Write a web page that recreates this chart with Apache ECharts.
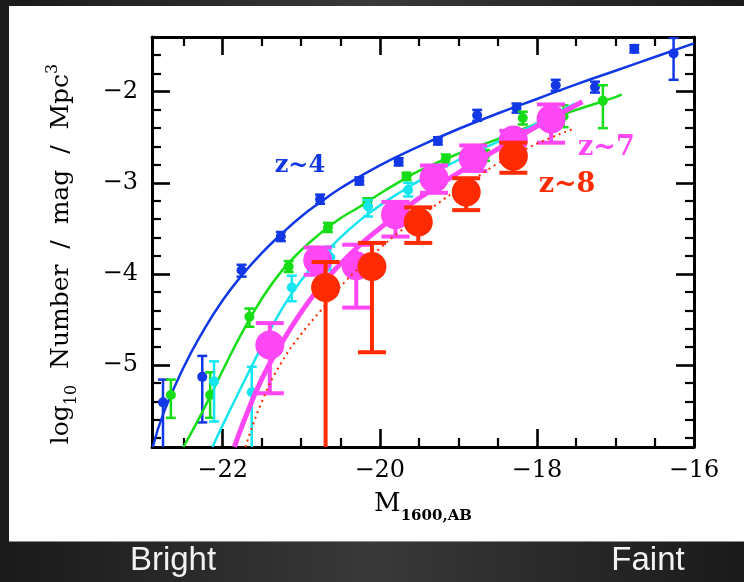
<!DOCTYPE html>
<html>
<head>
<meta charset="utf-8">
<title>UV luminosity functions, z~4 to z~8</title>
<script src="https://cdn.jsdelivr.net/npm/echarts@6/dist/echarts.min.js"></script>
<style>
  html, body { margin: 0; padding: 0; background: #222; }
  #chart { width: 744px; height: 582px; }
</style>
</head>
<body>
<div id="chart"></div>
<script>
// ---- measured points: absolute magnitude, log10 number density, error bars ----
const z4M     = [-22.76, -22.26, -21.76, -21.26, -20.76, -20.26, -19.76, -19.26, -18.76, -18.26, -17.76, -17.26, -16.76, -16.26];
const z4Phi   = [-5.41, -5.13, -3.96, -3.59, -3.18, -2.98, -2.77, -2.54, -2.26, -2.18, -1.93, -1.95, -1.53, -1.58];
const z4ErrUp = [0.25, 0.23, 0.06, 0.05, 0.05, 0.04, 0.04, 0.04, 0.06, 0.05, 0.06, 0.06, 0.04, 0.17];
const z4ErrDn = [0.80, 0.50, 0.07, 0.05, 0.05, 0.04, 0.04, 0.04, 0.06, 0.05, 0.06, 0.06, 0.04, 0.29];

const z5M     = [-22.66, -22.16, -21.66, -21.16, -20.66, -20.16, -19.66, -19.16, -18.66, -18.18, -17.66, -17.16];
const z5Phi   = [-5.33, -5.33, -4.47, -3.92, -3.49, -3.21, -2.93, -2.74, -2.70, -2.29, -2.27, -2.10];
const z5ErrUp = [0.17, 0.25, 0.09, 0.06, 0.05, 0.04, 0.04, 0.05, 0.06, 0.07, 0.12, 0.17];
const z5ErrDn = [0.25, 0.25, 0.11, 0.06, 0.05, 0.04, 0.04, 0.05, 0.06, 0.07, 0.12, 0.30];

const z6M     = [-22.11, -21.63, -21.12, -20.63, -20.15, -19.64];
const z6Phi   = [-5.18, -5.30, -4.15, -3.82, -3.26, -3.08];
const z6ErrUp = [0.22, 0.28, 0.13, 0.12, 0.07, 0.08];
const z6ErrDn = [0.44, 0.90, 0.15, 0.14, 0.11, 0.07];

const z7M     = [-21.40, -20.79, -20.30, -19.80, -19.31, -18.81, -18.30, -17.82];
const z7Phi   = [-4.78, -3.85, -3.91, -3.35, -2.95, -2.73, -2.53, -2.30];
const z7ErrUp = [0.24, 0.14, 0.23, 0.14, 0.14, 0.14, 0.10, 0.16];
const z7ErrDn = [0.53, 0.16, 0.46, 0.24, 0.16, 0.14, 0.15, 0.26];

const z8M     = [-20.69, -20.10, -19.51, -18.90, -18.30];
const z8Phi   = [-4.15, -3.92, -3.43, -3.10, -2.71];
const z8ErrUp = [0.28, 0.26, 0.16, 0.15, 0.15];
const z8ErrDn = [2.00, 0.94, 0.23, 0.20, 0.18];

// ---- fitted luminosity-function curves ----
const z4CurveM   = [-22.89, -22.75, -22.5, -22.25, -22.0, -21.75, -21.5, -21.25, -21.0, -20.75, -20.5, -20.0, -19.5, -19.0, -18.5, -18.0, -17.5, -17.0, -16.5, -16.0];
const z4CurvePhi = [-5.90, -5.52, -5.03, -4.63, -4.29, -4.01, -3.77, -3.56, -3.37, -3.21, -3.06, -2.81, -2.60, -2.41, -2.24, -2.08, -1.92, -1.77, -1.62, -1.47];

const z5CurveM   = [-22.5, -22.25, -22.0, -21.75, -21.5, -21.25, -21.0, -20.75, -20.5, -20.25, -20.0, -19.75, -19.5, -19.0, -18.5, -18.0, -17.5, -17.0, -16.92];
const z5CurvePhi = [-5.90, -5.50, -5.06, -4.64, -4.27, -3.97, -3.74, -3.55, -3.39, -3.26, -3.12, -2.99, -2.87, -2.68, -2.52, -2.35, -2.20, -2.06, -2.03];

const z6CurveM   = [-22.13, -22.0, -21.75, -21.5, -21.25, -21.0, -20.75, -20.5, -20.25, -20.0, -19.75, -19.5, -19.0, -18.5, -18.0, -17.52];
const z6CurvePhi = [-5.90, -5.66, -5.22, -4.79, -4.39, -4.07, -3.82, -3.60, -3.41, -3.25, -3.11, -2.98, -2.75, -2.55, -2.35, -2.13];

const z7CurveM   = [-21.85, -21.75, -21.5, -21.25, -21.0, -20.75, -20.5, -20.25, -20.0, -19.75, -19.5, -19.0, -18.5, -18.0, -17.42];
const z7CurvePhi = [-5.90, -5.66, -5.15, -4.76, -4.42, -4.13, -3.89, -3.68, -3.50, -3.33, -3.17, -2.89, -2.63, -2.38, -2.11];

const z8CurveM   = [-21.71, -21.5, -21.25, -21.0, -20.75, -20.5, -20.25, -20.0, -19.75, -19.5, -19.25, -19.0, -18.75, -18.5, -18.25, -18.0, -17.54];
const z8CurvePhi = [-5.90, -5.40, -4.97, -4.66, -4.40, -4.14, -3.92, -3.72, -3.54, -3.38, -3.22, -3.07, -2.93, -2.79, -2.68, -2.57, -2.41];

// ---- axes ----
const xTickValues = [-22, -20, -18, -16];
const xTickLabels = ['\u221222', '\u221220', '\u221218', '\u221216'];
const xMinorTicks = [-22.5, -21.5, -21, -20.5, -19.5, -19, -18.5, -17.5, -17, -16.5];
const yTickValues = [-5, -4, -3, -2];
const yTickLabels = ['\u22125', '\u22124', '\u22123', '\u22122'];
const yMinorTicks = [-5.8, -5.6, -5.4, -5.2, -4.8, -4.6, -4.4, -4.2, -3.8, -3.6, -3.4, -3.2, -2.8, -2.6, -2.4, -2.2, -1.8, -1.6];

// redshift tags, placed in data units
const tagText  = ['z~4', 'z~7', 'z~8'];
const tagColor = ['#1238e6', '#ff47f5', '#ff2b00'];
const tagSize  = [24, 27, 27];
const tagPos   = [[-21.01, -2.82], [-17.11, -2.62], [-17.61, -3.03]];

const COLORS = { z4: '#1238e6', z5: '#16dd16', z6: '#14e6ef', z7: '#ff47f5', z8: '#ff2b00' };
const SERIF = 'DejaVu Serif';

function pairs(xs, ys) { return xs.map((x, i) => [x, ys[i]]); }

function errorBars(color, M, phi, up, dn, capW, lw, z) {
  return {
    type: 'custom',
    xAxisIndex: 0, yAxisIndex: 0,
    clip: true, z: z, silent: true,
    encode: { x: 0, y: [1, 2, 3] },
    data: M.map((m, i) => [m, phi[i], phi[i] - dn[i], phi[i] + up[i]]),
    renderItem(params, api) {
      const x = api.value(0);
      const hi = api.coord([x, api.value(3)]);
      const lo = api.coord([x, api.value(2)]);
      const h = capW / 2;
      const style = { stroke: color, lineWidth: lw, fill: null };
      return {
        type: 'group',
        children: [
          { type: 'line', shape: { x1: hi[0], y1: hi[1], x2: lo[0], y2: lo[1] }, style },
          { type: 'line', shape: { x1: hi[0] - h, y1: hi[1], x2: hi[0] + h, y2: hi[1] }, style },
          { type: 'line', shape: { x1: lo[0] - h, y1: lo[1], x2: lo[0] + h, y2: lo[1] }, style }
        ]
      };
    }
  };
}

function points(color, M, phi, size, z) {
  return {
    type: 'scatter', xAxisIndex: 0, yAxisIndex: 0, z: z, silent: true,
    symbol: 'circle', symbolSize: size,
    itemStyle: { color: color, opacity: 1 },
    data: pairs(M, phi)
  };
}

function curve(color, M, phi, width, type, z) {
  return {
    type: 'line', xAxisIndex: 0, yAxisIndex: 0, z: z, silent: true,
    showSymbol: false, symbol: 'none', smooth: 0.5,
    clip: true,
    lineStyle: { color: color, width: width, type: type, cap: 'butt' },
    data: pairs(M, phi)
  };
}

const X_RANGE = { min: -22.9, max: -16 };
const Y_RANGE = { min: -5.9, max: -1.4 };

function xAxisDef(position, major, labels) {
  return Object.assign({
    type: 'value', position: position, gridIndex: 0,
    splitLine: { show: false },
    axisLine: { show: major, onZero: false, lineStyle: { color: '#000', width: 3 } },
    axisTick: {
      show: true, inside: true, length: major ? 18 : 9,
      customValues: major ? xTickValues : xMinorTicks,
      lineStyle: { color: '#000', width: major ? 2.6 : 2.2 }
    },
    axisLabel: labels ? {
      show: true, customValues: xTickValues,
      formatter: v => xTickLabels[xTickValues.indexOf(v)],
      fontFamily: SERIF, fontSize: 24, color: '#000', margin: 12
    } : { show: false }
  }, X_RANGE);
}

function yAxisDef(position, major, labels) {
  return Object.assign({
    type: 'value', position: position, gridIndex: 0,
    splitLine: { show: false },
    axisLine: { show: major, onZero: false, lineStyle: { color: '#000', width: 3 } },
    axisTick: {
      show: true, inside: true, length: major ? 18 : 9,
      customValues: major ? yTickValues : yMinorTicks,
      lineStyle: { color: '#000', width: major ? 2.6 : 2.2 }
    },
    axisLabel: labels ? {
      show: true, customValues: yTickValues,
      formatter: v => yTickLabels[yTickValues.indexOf(v)],
      fontFamily: SERIF, fontSize: 24, color: '#000', margin: 14
    } : { show: false }
  }, Y_RANGE);
}

const xBottom = xAxisDef('bottom', true, true);
xBottom.name = '{m|M}{s|1600,AB}';
xBottom.nameLocation = 'middle';
xBottom.nameGap = 44;
xBottom.nameTextStyle = {
  color: '#000',
  rich: {
    m: { fontFamily: SERIF, fontSize: 26, color: '#000', padding: [0, 0, 7, 0], verticalAlign: 'bottom' },
    s: { fontFamily: SERIF, fontSize: 15, fontWeight: 'bold', color: '#000', verticalAlign: 'bottom' }
  }
};

const yLeft = yAxisDef('left', true, true);
yLeft.name = '{n|log}{b|10}{n|  Number  /  mag  /  Mpc}{p|3}';
yLeft.nameLocation = 'middle';
yLeft.nameRotate = 90;
yLeft.nameGap = 72;
yLeft.nameTextStyle = {
  color: '#000',
  rich: {
    n: { fontFamily: SERIF, fontSize: 25, color: '#000', padding: [0, 0, 6, 0], verticalAlign: 'bottom' },
    b: { fontFamily: SERIF, fontSize: 16, color: '#000', verticalAlign: 'bottom' },
    p: { fontFamily: SERIF, fontSize: 16, color: '#000', padding: [0, 24, 19, 0], verticalAlign: 'bottom' }
  }
};

const series = [
  // z~4
  curve(COLORS.z4, z4CurveM, z4CurvePhi, 2.5, 'solid', 2),
  errorBars(COLORS.z4, z4M, z4Phi, z4ErrUp, z4ErrDn, 10, 2.5, 3),
  points(COLORS.z4, z4M, z4Phi, 10, 3),
  // z~5
  curve(COLORS.z5, z5CurveM, z5CurvePhi, 2.5, 'solid', 4),
  errorBars(COLORS.z5, z5M, z5Phi, z5ErrUp, z5ErrDn, 10, 2.5, 5),
  points(COLORS.z5, z5M, z5Phi, 10, 5),
  // z~6
  curve(COLORS.z6, z6CurveM, z6CurvePhi, 2.5, 'solid', 6),
  errorBars(COLORS.z6, z6M, z6Phi, z6ErrUp, z6ErrDn, 10, 2.5, 7),
  points(COLORS.z6, z6M, z6Phi, 10, 7),
  // z~7
  curve(COLORS.z7, z7CurveM, z7CurvePhi, 5, 'solid', 8),
  errorBars(COLORS.z7, z7M, z7Phi, z7ErrUp, z7ErrDn, 28, 4, 9),
  points(COLORS.z7, z7M, z7Phi, 29, 9),
  // z~8
  curve(COLORS.z8, z8CurveM, z8CurvePhi, 2, [2, 4], 10),
  errorBars(COLORS.z8, z8M, z8Phi, z8ErrUp, z8ErrDn, 28, 4, 11),
  points(COLORS.z8, z8M, z8Phi, 29, 11),
  // redshift tags
  {
    type: 'scatter', xAxisIndex: 0, yAxisIndex: 0, z: 12, silent: true,
    symbolSize: 1, itemStyle: { opacity: 0 },
    data: tagPos.map((p, i) => ({
      value: p,
      label: {
        show: true, position: [0, 0], align: 'center', verticalAlign: 'middle',
        formatter: tagText[i], color: tagColor[i], opacity: 1,
        textBorderWidth: 0, fontFamily: SERIF, fontWeight: 'bold', fontSize: tagSize[i]
      }
    }))
  }
];

const chart = echarts.init(document.getElementById('chart'), null, { renderer: 'canvas' });
chart.setOption({
  animation: false,
  backgroundColor: {
    type: 'linear', x: 0, y: 0, x2: 1, y2: 0,
    colorStops: [
      { offset: 0, color: '#1a1a1a' },
      { offset: 0.5, color: '#393939' },
      { offset: 1, color: '#1a1a1a' }
    ]
  },
  graphic: [
    { type: 'rect', z: -100, silent: true, shape: { x: 9, y: 6, width: 735, height: 535 }, style: { fill: '#ffffff' } },
    { type: 'line', z: -99, silent: true, shape: { x1: 9, y1: 541.5, x2: 744, y2: 541.5 }, style: { stroke: '#8a8a8a', lineWidth: 1 } },
    { type: 'text', silent: true, x: 173, y: 561,
      style: { text: 'Bright', fill: '#f2f2f2', font: '33px "Liberation Sans", Arial, sans-serif', align: 'center', verticalAlign: 'middle' } },
    { type: 'text', silent: true, x: 648, y: 561,
      style: { text: 'Faint', fill: '#f2f2f2', font: '33px "Liberation Sans", Arial, sans-serif', align: 'center', verticalAlign: 'middle' } }
  ],
  grid: { left: 152, right: 50, top: 37, bottom: 135, containLabel: false },
  xAxis: [
    xBottom,
    xAxisDef('bottom', false, false),
    xAxisDef('top', true, false),
    xAxisDef('top', false, false)
  ],
  yAxis: [
    yLeft,
    yAxisDef('left', false, false),
    yAxisDef('right', true, false),
    yAxisDef('right', false, false)
  ],
  series: series
});
</script>
</body>
</html>
